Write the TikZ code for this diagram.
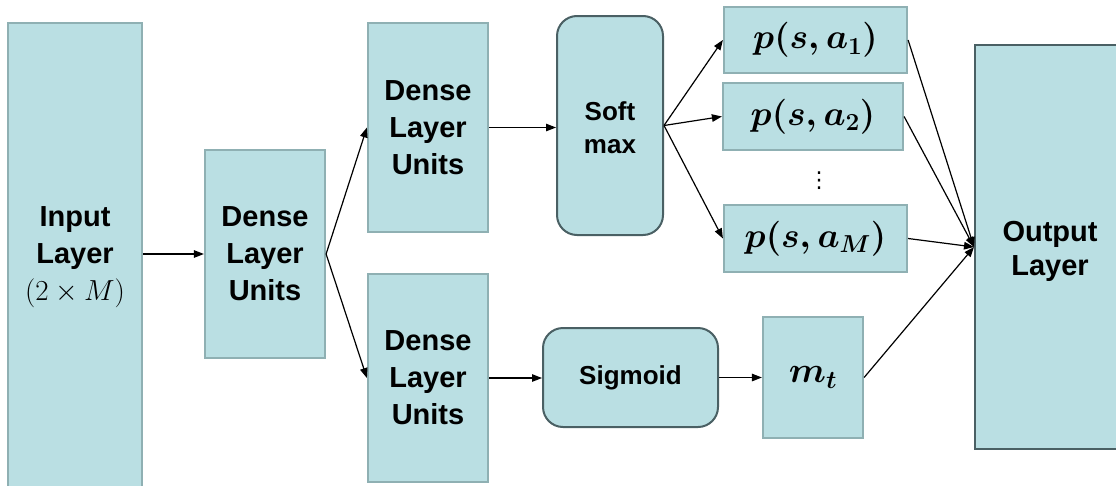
\RequirePackage{fix-cm}
\documentclass[tikz,border=0pt]{standalone}
\usepackage{amsmath}
\usepackage{fontspec}
\setmainfont{Liberation Sans}
\newfontfamily\symfont{DejaVu Sans}
\usetikzlibrary{arrows.meta}
\definecolor{boxfill}{HTML}{BADFE3}
\definecolor{lightedge}{HTML}{8FB0B3}
\definecolor{darkedge}{HTML}{4A6064}
\begin{document}
\begin{tikzpicture}[x=1pt,y=-1pt,
  plain/.style={draw=lightedge, fill=boxfill, line width=2.2pt, inner sep=0pt, align=center,
    font=\bfseries\fontsize{29}{37}\selectfont},
  rnd/.style={draw=darkedge, fill=boxfill, line width=2pt, rounded corners=20pt, inner sep=0pt, align=center,
    font=\bfseries\fontsize{26}{33}\selectfont},
  outbox/.style={draw=darkedge, fill=boxfill, line width=2pt, inner sep=0pt, align=center,
    font=\bfseries\fontsize{29}{34}\selectfont},
  prob/.style={plain, font=\boldmath\fontsize{35}{40}\selectfont},
  conn/.style={line width=1.2pt, -{Triangle[length=10pt,width=7.5pt]}}]
\useasboundingbox (0,0) rectangle (1116,485);
\clip (0,0) rectangle (1116,485);
\fill[white] (0,0) rectangle (1116,485);
% boxes
\node[plain, minimum width=134pt, minimum height=464pt] (in) at (75,255) {\rule{0pt}{24pt}Input\\Layer\\{\mdseries$(2\times M)$}};
\node[plain, minimum width=120pt, minimum height=208pt] (d1) at (265,254) {Dense\\Layer\\Units};
\node[plain, minimum width=120pt, minimum height=209pt] (dt) at (428,127.5) {Dense\\Layer\\Units};
\node[plain, minimum width=120pt, minimum height=208pt] (db) at (428,378) {Dense\\Layer\\Units};
\node[rnd, minimum width=106pt, minimum height=219pt] (sm) at (610,125.5) {\rule{0pt}{24pt}Soft\\max};
\node[prob, minimum width=183pt, minimum height=66pt] (p1) at (815.5,40) {$p(s,a_1)$};
\node[prob, minimum width=180pt, minimum height=67pt] (p2) at (813,116.5) {$p(s,a_2)$};
\node[prob, minimum width=183pt, minimum height=67pt] (pM) at (815.5,238.5) {$p(s,a_M)$};
\node[font=\symfont\fontsize{22}{24}\selectfont, inner sep=0pt] (dots) at (819,181) {⋮};
\node[rnd, minimum width=175pt, minimum height=99pt] (sg) at (630.5,377.5) {Sigmoid};
\node[plain, font=\boldmath\fontsize{36}{40}\selectfont, minimum width=100pt, minimum height=121pt] (mt) at (813,377.5) {$m_t$};
\node[outbox, minimum width=150pt, minimum height=404pt] (out) at (1050,247) {\rule{0pt}{30pt}Output\\Layer};
% connectors
\draw[conn] (in.east |- d1.west) -- (d1.west);
\draw[conn] (d1.east) -- (dt.west);
\draw[conn] (d1.east) -- (db.west);
\draw[conn] (dt.east) -- (dt.east -| sm.west);
\draw[conn] (sm.east) -- (p1.west);
\draw[conn] (sm.east) -- (p2.west);
\draw[conn] (sm.east) -- (pM.west);
\draw[conn] (db.east) -- (db.east -| sg.west);
\draw[conn] (sg.east) -- (mt.west);
\draw[conn] (p1.east) -- (out.west);
\draw[conn] (p2.east) -- (out.west);
\draw[conn] (pM.east) -- (out.west);
\draw[conn] (mt.east) -- (out.west);
\end{tikzpicture}
\end{document}
